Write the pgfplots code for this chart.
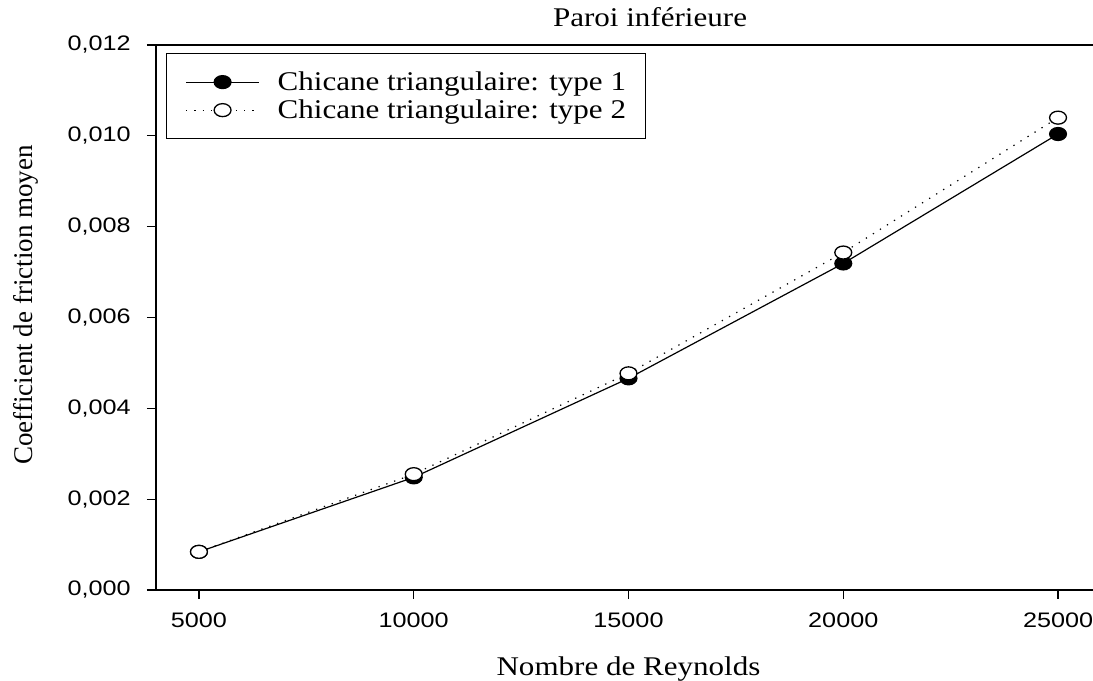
\documentclass[border=0pt]{standalone}
\usepackage{fontspec}
\setmainfont{Liberation Serif}
\setsansfont{Liberation Sans}
\usepackage{graphicx}
\usepackage{pgfplots}
\pgfplotsset{compat=1.18}
\newcommand{\wide}[1]{\scalebox{1.15}[1]{#1}}
\begin{document}
\begin{tikzpicture}
\begin{axis}[
  name=ax,
  scale only axis,
  width=945pt, height=545pt,
  xmin=4000, xmax=26000, ymin=0, ymax=0.012,
  xtick={5000,10000,15000,20000,25000},
  ytick={0,0.002,0.004,0.006,0.008,0.010,0.012},
  scaled x ticks=false, scaled y ticks=false,
  tick align=outside, xtick pos=bottom, ytick pos=left,
  major tick length=9pt,
  axis line style={line width=1.3pt},
  major tick style={line width=1.3pt, black},
  /pgf/number format/assume math mode=true,
  x tick label style={font=\sffamily\fontsize{21}{25}\selectfont, /pgf/number format/1000 sep={}, inner ysep=0pt, yshift=-14pt, xscale=1.2},
  y tick label style={font=\sffamily\fontsize{21}{25}\selectfont, /pgf/number format/.cd, fixed, fixed zerofill, precision=3, use comma, /tikz/.cd, inner xsep=0pt, xshift=-16pt, xscale=1.2},
  xlabel={\wide{Nombre de Reynolds}},
  ylabel={Coefficient de friction moyen},
  xlabel style={font=\fontsize{27}{32}\selectfont, at={(rel axis cs:0.5,0)}, anchor=base, yshift=-86pt},
  ylabel style={font=\fontsize{27}{32}\selectfont, at={(rel axis cs:-0.1302,0.523)}, anchor=base, rotate=0},
  title={\wide{Paroi inférieure}},
  title style={font=\fontsize{27}{32}\selectfont, at={(rel axis cs:0.5228,1)}, anchor=base, yshift=12pt},
  legend style={at={(rel axis cs:0.01058,0.98532)}, anchor=north west, draw=black, line width=1pt,
    font=\fontsize{27}{32}\selectfont, row sep=7.8pt, column sep=18pt, inner xsep=19pt, inner ysep=18.5pt,
    nodes={inner sep=0pt}},
  legend cell align=left,
  legend image code/.code={\draw[mark repeat=2,mark phase=2,#1] plot coordinates {(0pt,0pt) (36.5pt,0pt) (73pt,0pt)};},
  clip=false,
]
\addplot[black, line width=1.2pt, mark=*, mark size=6.5pt, mark options={solid, fill=black, xscale=1.3}]
  coordinates {(5000,0.00084) (10000,0.00248) (15000,0.00466) (20000,0.00719) (25000,0.01004)};
\addlegendentry{\wide{Chicane triangulaire: type 1}}
\addplot[black, line width=1.2pt, dash pattern=on 1.3pt off 7pt, mark=*, mark size=6.5pt, mark options={solid, fill=white, line width=1.3pt, xscale=1.3}]
  coordinates {(5000,0.00084) (10000,0.00255) (15000,0.00477) (20000,0.00743) (25000,0.0104)};
\addlegendentry{\wide{Chicane triangulaire: type 2}}
\end{axis}
\pgfresetboundingbox
\path ([shift={(-156pt,-91pt)}]ax.south west) rectangle ([shift={(937pt,45pt)}]ax.north west);
\end{tikzpicture}
\end{document}
